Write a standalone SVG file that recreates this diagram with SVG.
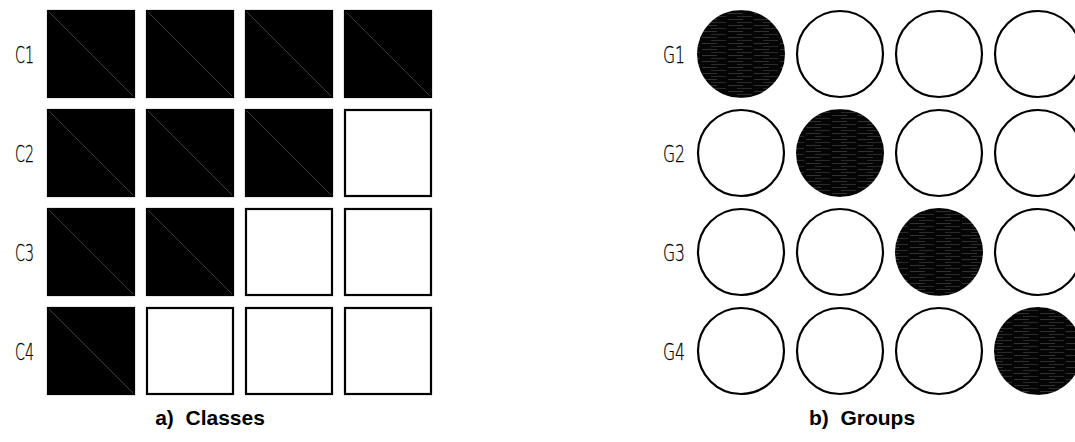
<svg xmlns="http://www.w3.org/2000/svg" width="1075" height="442" viewBox="0 0 1075 442">
<style>
.sq{stroke:#000;stroke-width:2.2;fill:#fff}
.sqf{stroke:#000;stroke-width:2.2;fill:#000}
.dg{stroke:#3a3a3a;stroke-width:1}
.ci{stroke:#000;stroke-width:2.2;fill:#fff}
.cif{stroke:none;fill:url(#hatch)}
.lbl{font-family:"DejaVu Sans",sans-serif;font-weight:200;font-size:23px;fill:#000;stroke:#000;stroke-width:0.3}
.cap{font-family:"Liberation Sans",Arial,sans-serif;font-weight:bold;font-size:21px;fill:#000;text-anchor:middle;white-space:pre}
</style>
<defs>
<pattern id="hatch" patternUnits="userSpaceOnUse" width="26" height="6">
<rect width="26" height="6" fill="#050505"/>
<line x1="0" y1="1.5" x2="15" y2="1.5" stroke="#3c3c3c" stroke-width="0.8"/>
<line x1="9" y1="4.5" x2="24" y2="4.5" stroke="#333" stroke-width="0.8"/>
</pattern>
</defs>
<g id="classes">
<g id="C1"><text class="lbl" x="15" y="63" textLength="19" lengthAdjust="spacingAndGlyphs">C1</text>
<rect class="sqf" x="48" y="11" width="86" height="86"/><line class="dg" x1="49" y1="12" x2="133" y2="96"/>
<rect class="sqf" x="147" y="11" width="86" height="86"/><line class="dg" x1="148" y1="12" x2="232" y2="96"/>
<rect class="sqf" x="246" y="11" width="86" height="86"/><line class="dg" x1="247" y1="12" x2="331" y2="96"/>
<rect class="sqf" x="345" y="11" width="86" height="86"/><line class="dg" x1="346" y1="12" x2="430" y2="96"/>
</g>
<g id="C2"><text class="lbl" x="15" y="162" textLength="19" lengthAdjust="spacingAndGlyphs">C2</text>
<rect class="sqf" x="48" y="110" width="86" height="86"/><line class="dg" x1="49" y1="111" x2="133" y2="195"/>
<rect class="sqf" x="147" y="110" width="86" height="86"/><line class="dg" x1="148" y1="111" x2="232" y2="195"/>
<rect class="sqf" x="246" y="110" width="86" height="86"/><line class="dg" x1="247" y1="111" x2="331" y2="195"/>
<rect class="sq" x="345" y="110" width="86" height="86"/>
</g>
<g id="C3"><text class="lbl" x="15" y="261" textLength="19" lengthAdjust="spacingAndGlyphs">C3</text>
<rect class="sqf" x="48" y="209" width="86" height="86"/><line class="dg" x1="49" y1="210" x2="133" y2="294"/>
<rect class="sqf" x="147" y="209" width="86" height="86"/><line class="dg" x1="148" y1="210" x2="232" y2="294"/>
<rect class="sq" x="246" y="209" width="86" height="86"/>
<rect class="sq" x="345" y="209" width="86" height="86"/>
</g>
<g id="C4"><text class="lbl" x="15" y="360" textLength="19" lengthAdjust="spacingAndGlyphs">C4</text>
<rect class="sqf" x="48" y="308" width="86" height="86"/><line class="dg" x1="49" y1="309" x2="133" y2="393"/>
<rect class="sq" x="147" y="308" width="86" height="86"/>
<rect class="sq" x="246" y="308" width="86" height="86"/>
<rect class="sq" x="345" y="308" width="86" height="86"/>
</g>
<text id="capA" class="cap" x="210" y="425" xml:space="preserve">a)  Classes</text>
</g>
<g id="groups">
<g id="G1"><text class="lbl" x="663" y="63" textLength="22" lengthAdjust="spacingAndGlyphs">G1</text>
<circle class="cif" cx="741" cy="54" r="44"/>
<circle class="ci" cx="840" cy="54" r="43"/>
<circle class="ci" cx="939" cy="54" r="43"/>
<circle class="ci" cx="1038" cy="54" r="43"/>
</g>
<g id="G2"><text class="lbl" x="663" y="162" textLength="22" lengthAdjust="spacingAndGlyphs">G2</text>
<circle class="ci" cx="741" cy="153" r="43"/>
<circle class="cif" cx="840" cy="153" r="44"/>
<circle class="ci" cx="939" cy="153" r="43"/>
<circle class="ci" cx="1038" cy="153" r="43"/>
</g>
<g id="G3"><text class="lbl" x="663" y="261" textLength="22" lengthAdjust="spacingAndGlyphs">G3</text>
<circle class="ci" cx="741" cy="252" r="43"/>
<circle class="ci" cx="840" cy="252" r="43"/>
<circle class="cif" cx="939" cy="252" r="44"/>
<circle class="ci" cx="1038" cy="252" r="43"/>
</g>
<g id="G4"><text class="lbl" x="663" y="360" textLength="22" lengthAdjust="spacingAndGlyphs">G4</text>
<circle class="ci" cx="741" cy="351" r="43"/>
<circle class="ci" cx="840" cy="351" r="43"/>
<circle class="ci" cx="939" cy="351" r="43"/>
<circle class="cif" cx="1038" cy="351" r="44"/>
</g>
<text id="capB" class="cap" x="862" y="425" xml:space="preserve">b)  Groups</text>
</g>
<g id="connectors"/>
</svg>
